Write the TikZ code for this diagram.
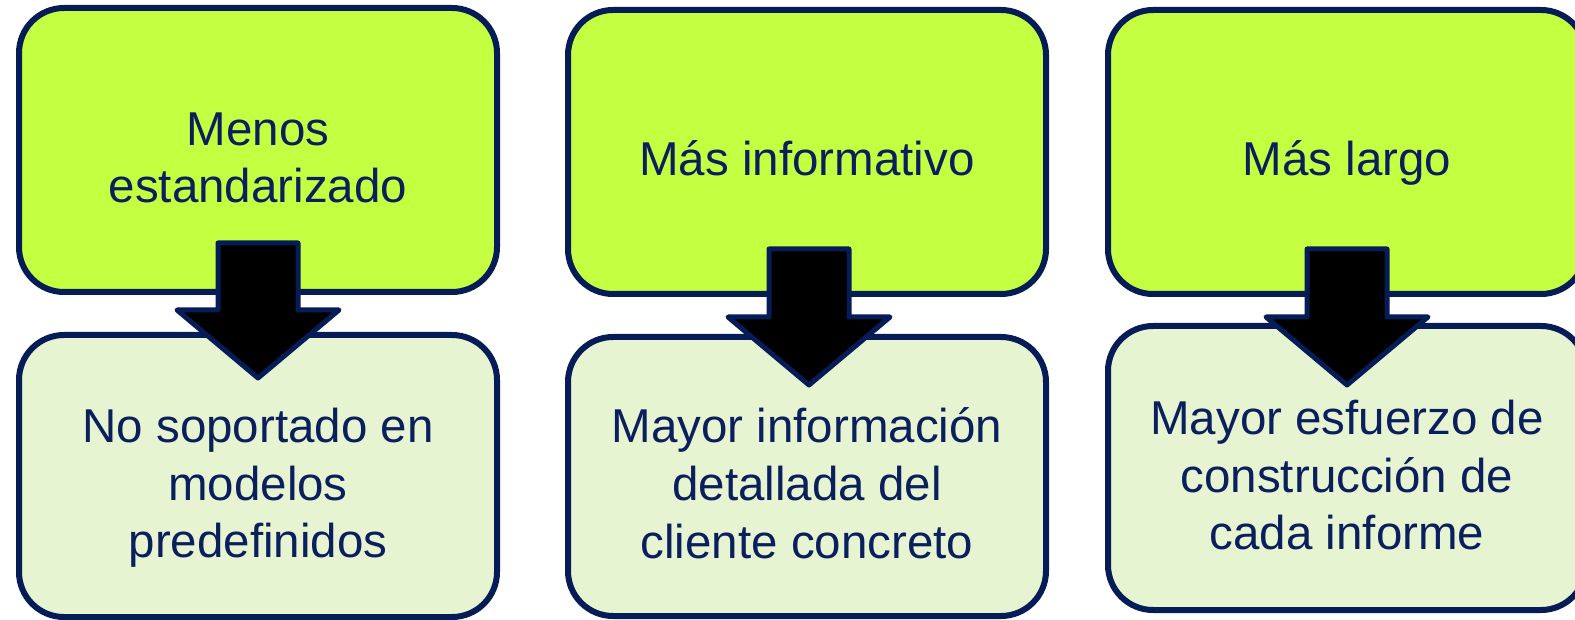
\documentclass[tikz,border=0pt]{standalone}
\usepackage{fontspec}
\setmainfont{Liberation Sans}
\usetikzlibrary{calc}
\definecolor{topfill}{HTML}{C5FF41}
\definecolor{botfill}{HTML}{E6F4D1}
\definecolor{navy}{HTML}{061C57}
\definecolor{txtnavy}{HTML}{0B1F5C}
% struts that fix the vertical extent of the first and last line of a text
\newcommand\firststrut{\rule{0pt}{60pt}}
\newcommand\laststrut{\rule[-12pt]{0pt}{12pt}}
\begin{document}
\begin{tikzpicture}[x=1pt,y=-1pt,
  box/.style={draw=navy, line width=6pt, rounded corners=45pt, minimum width=478pt,
    inner sep=0pt, align=center, text=txtnavy,
    font=\fontsize{47.5}{57.7}\selectfont},
  topbox/.style={box, fill=topfill, minimum height=284pt},
  botbox/.style={box, fill=botfill},
  blockarrow/.style={draw=navy, fill=black, line width=5pt, line join=round}
]
\useasboundingbox (0,0) rectangle (1575,620);
\clip (0,0) rectangle (1575,620);
% column 1
\node[topbox] (t1) at (258,150) {\firststrut Menos\\estandarizado\laststrut};
\node[botbox, minimum height=282pt] (b1) at (258,476) {\firststrut No soportado en\\modelos\\predefinidos\laststrut};
% column 2
\node[topbox] (t2) at (807,152) {\firststrut Más informativo\laststrut};
\node[botbox, minimum height=279pt] (b2) at (807,476.5) {\firststrut Mayor información\\detallada del\\cliente concreto\laststrut};
% column 3
\node[topbox] (t3) at (1347,152) {\firststrut Más largo\laststrut};
\node[botbox, minimum height=284pt] (b3) at (1347,468) {\firststrut Mayor esfuerzo de\\construcción de\\cada informe\laststrut};
% block arrows from top box to bottom box
\draw[blockarrow, shift={($(t1.south)+(0,-52)$)}] (-40,0) -- (40,0) -- (40,67) -- (81,67) -- (0,135) -- (-81,67) -- (-40,67) -- cycle;
\draw[blockarrow, shift={($(t2.south)+(2,-48)$)}] (-40,0) -- (40,0) -- (40,68) -- (81,68) -- (0,136) -- (-81,68) -- (-40,68) -- cycle;
\draw[blockarrow, shift={($(t3.south)+(0,-48)$)}] (-40,0) -- (40,0) -- (40,68) -- (81,68) -- (0,136) -- (-81,68) -- (-40,68) -- cycle;
\end{tikzpicture}
\end{document}
